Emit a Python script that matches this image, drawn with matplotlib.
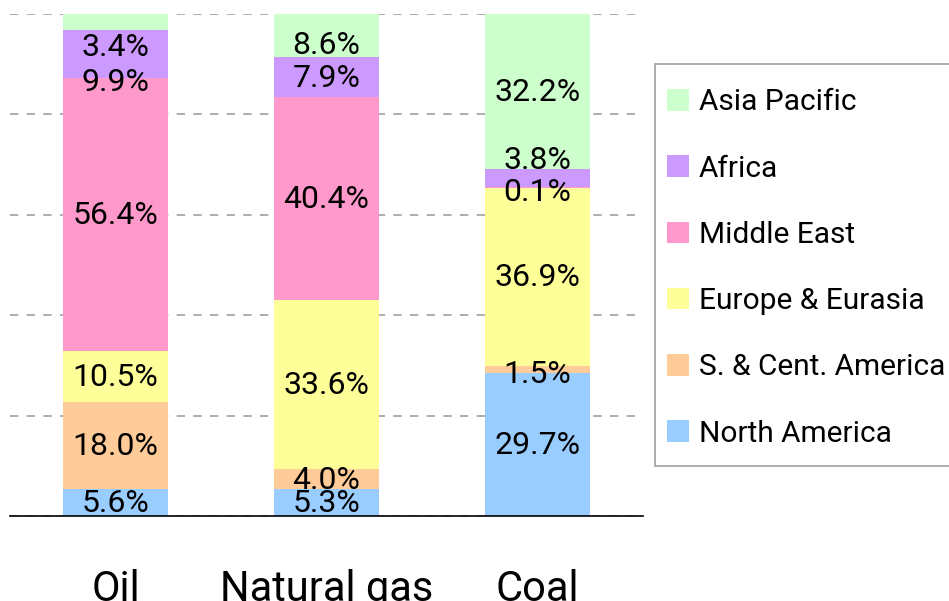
import matplotlib
matplotlib.use('Agg')
import matplotlib.pyplot as plt
from matplotlib.patches import Rectangle
import numpy as np

# ---------------- data ----------------
categories = ['Oil', 'Natural gas', 'Coal']
regions = ['North America', 'S. & Cent. America', 'Europe & Eurasia',
           'Middle East', 'Africa', 'Asia Pacific']
north_america = [5.6, 5.3, 29.7]
sc_america = [18.0, 4.0, 1.5]
europe_eurasia = [10.5, 33.6, 36.9]
middle_east = [56.4, 40.4, 0.1]
africa = [9.9, 7.9, 3.8]
asia_pacific = [3.4, 8.6, 32.2]

# ---------------- style ----------------
colors = ['#99CCFF', '#FFCC99', '#FFFF99', '#FF99CC', '#CC99FF', '#CCFFCC']
# vertical label nudges in pixels (mimic the original's label collision handling)
label_nudge = [[0, 0, 0], [0, 0, -4.5], [0, 0, 0], [0, 0, -3.5], [-27, 0, 19], [-24, -9, 0]]
font = 'Roboto'

series = [north_america, sc_america, europe_eurasia, middle_east, africa, asia_pacific]
vals = np.array(series, dtype=float)
totals = vals.sum(axis=0)
shares = vals / totals * 100.0

W, H = 949, 601
fig = plt.figure(figsize=(W / 100, H / 100), dpi=100)
ax = fig.add_axes([10 / W, 1 - 516 / H, 633 / W, 502 / H])

x = np.arange(len(categories))
bottom = np.zeros(len(categories))
handles = []
for k, (name, col) in enumerate(zip(regions, colors)):
    bars = ax.bar(x, shares[k], bottom=bottom, width=0.5, color=col,
                  edgecolor='none', label=name, zorder=2)
    handles.append(bars)
    for i in range(len(categories)):
        yc = bottom[i] + shares[k][i] / 2
        ax.annotate(f'{series[k][i]:.1f}%', xy=(x[i], yc),
                    xytext=(0, label_nudge[k][i] - 1), textcoords='offset pixels',
                    ha='center', va='center', fontsize=23, family=font,
                    color='black', zorder=5)
    bottom = bottom + shares[k]

ax.set_xlim(-0.5, 2.5)
ax.set_ylim(0, 100)
ax.set_yticks([0, 20, 40, 60, 80, 100])
ax.yaxis.grid(True, linestyle=(0, (5, 5)), color='#a0a0a0', linewidth=1.2, zorder=0)
ax.set_axisbelow(True)
ax.tick_params(axis='y', left=False, labelleft=False)
for s in ['left', 'right', 'top']:
    ax.spines[s].set_visible(False)
ax.spines['bottom'].set_color('black')
ax.spines['bottom'].set_linewidth(1.2)
ax.set_xticks(x)
ax.set_xticklabels(categories, fontsize=30, family=font)
ax.tick_params(axis='x', length=0, pad=38)

# legend frame (decoration, runs past the right edge like the original)
fig.patches.append(Rectangle((655 / W, 1 - 466 / H), (965 - 655) / W, 402 / H,
                             transform=fig.transFigure, facecolor='white',
                             edgecolor='#a0a0a0', linewidth=1.2, zorder=1))
leg = fig.legend(handles[::-1], regions[::-1], loc='upper left',
                 bbox_to_anchor=(667 / W, 1 - 88.4 / H), bbox_transform=fig.transFigure,
                 borderaxespad=0, frameon=False,
                 prop={'family': font, 'size': 21.5},
                 handlelength=0.74, handleheight=0.74, handletextpad=0.33,
                 labelspacing=1.28, borderpad=0)
leg.set_zorder(3)

fig.savefig('out.png', dpi=100)
